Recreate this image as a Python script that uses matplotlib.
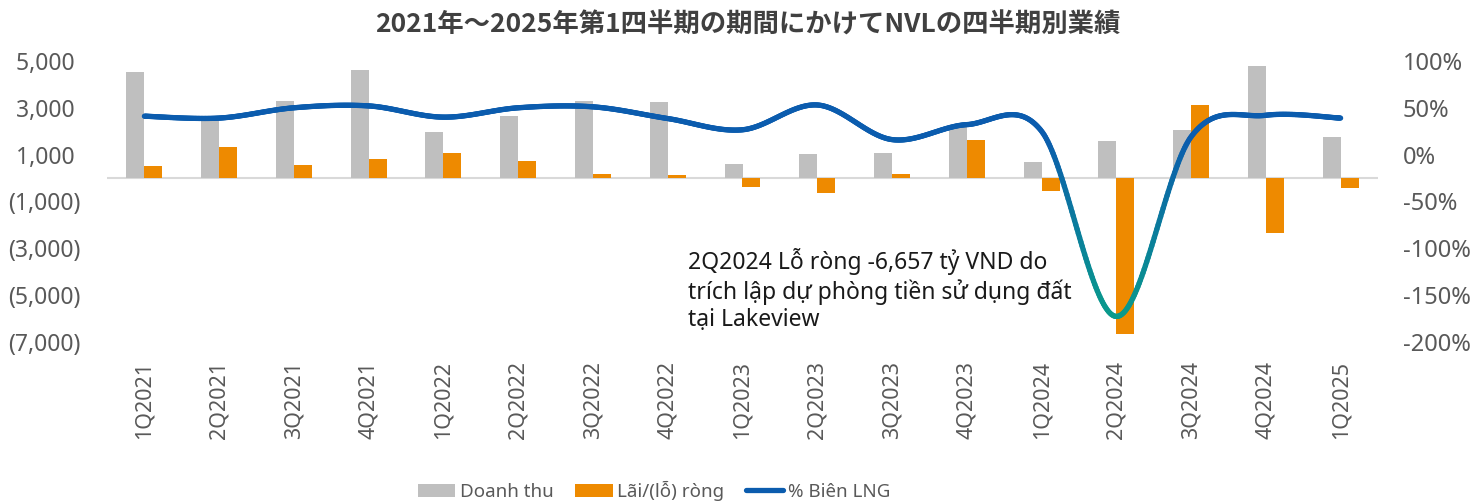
import numpy as np
import matplotlib
matplotlib.use("Agg")
import matplotlib.pyplot as plt
from matplotlib.collections import LineCollection
from matplotlib.patches import Patch
from matplotlib.lines import Line2D
from matplotlib.ticker import FuncFormatter, FixedLocator

plt.rcParams['font.family'] = ['Noto Sans', 'DejaVu Sans']

categories = ["1Q2021", "2Q2021", "3Q2021", "4Q2021", "1Q2022", "2Q2022", "3Q2022",
              "4Q2022", "1Q2023", "2Q2023", "3Q2023", "4Q2023", "1Q2024", "2Q2024",
              "3Q2024", "4Q2024", "1Q2025"]
revenue = [4510, 2550, 3270, 4600, 1950, 2670, 3280, 3240, 600, 1040, 1050, 2200,
           700, 1600, 2030, 4800, 1770]
net_profit = [530, 1310, 560, 810, 1080, 740, 180, 110, -370, -640, 160, 1640,
              -570, -6657, 3130, -2370, -440]
margin = [41, 39, 50, 52, 40, 50, 51, 38.5, 26.5, 53, 16, 32, 25, -173, 19, 42, 39]

title = "2021年～2025年第1四半期の期間にかけてNVLの四半期別業績"
note = "2Q2024 Lỗ ròng -6,657 tỷ VND do\ntrích lập dự phòng tiền sử dụng đất\ntại Lakeview"
legend_labels = ["Doanh thu", "Lãi/(lỗ) ròng", "% Biên LNG"]

GREY = "#bfbfbf"
ORANGE = "#ee8a00"
BLUE = np.array([0x0b, 0x5c, 0xae]) / 255
TEAL = np.array([0x0a, 0x9a, 0x8c]) / 255
TXT = "#595959"

W, H = 1473, 504
fig = plt.figure(figsize=(W / 100, H / 100), dpi=100)
ax = fig.add_axes([107 / W, 1 - 341.7 / H, (1378 - 107) / W, (341.7 - 61) / H])
ax2 = ax.twinx()

x = np.arange(len(categories))
bw = 0.24
ax.bar(x - bw / 2, revenue, width=bw, color=GREY, zorder=2)
ax.bar(x + bw / 2, net_profit, width=bw, color=ORANGE, zorder=2)
ax.axhline(0, color="#d9d9d9", lw=1.5, zorder=1)

ax.set_xlim(-0.5, len(categories) - 0.5)
ax.set_ylim(-7000, 5000)
ax.yaxis.set_major_locator(FixedLocator(np.arange(-7000, 5001, 2000)))
ax.yaxis.set_major_formatter(FuncFormatter(
    lambda v, p: f"{v:,.0f} " if v >= 0 else f"({-v:,.0f})"))
ax.set_xticks(x)
ax.set_xticklabels(categories, rotation=90, va="top", ha="center")
ax.tick_params(axis="x", length=0, pad=14, labelsize=15.5, labelcolor=TXT)
ax.tick_params(axis="y", length=0, pad=19, labelsize=16.5, labelcolor=TXT)

ax2.set_ylim(-200, 100)
ax2.yaxis.set_major_locator(FixedLocator(np.arange(-200, 101, 50)))
ax2.yaxis.set_major_formatter(FuncFormatter(lambda v, p: f"{v:.0f}%"))
ax2.tick_params(axis="y", length=0, pad=18, labelsize=17, labelcolor=TXT)

for a in (ax, ax2):
    for s in a.spines.values():
        s.set_visible(False)

# smoothed line (Excel-style bezier) with vertical colour gradient
pts = np.column_stack([x, margin]).astype(float)
P = np.vstack([pts[0], pts, pts[-1]])
curve = []
for i in range(1, len(P) - 2):
    p0, p1, p2, p3 = P[i - 1], P[i], P[i + 1], P[i + 2]
    c1 = p1 + (p2 - p0) / 6
    c2 = p2 - (p3 - p1) / 6
    t = np.linspace(0, 1, 60)[:, None]
    seg = (1 - t) ** 3 * p1 + 3 * (1 - t) ** 2 * t * c1 + 3 * (1 - t) * t ** 2 * c2 + t ** 3 * p2
    curve.append(seg if i == 1 else seg[1:])
curve = np.vstack(curve)
segs = np.stack([curve[:-1], curve[1:]], axis=1)
ymid = (curve[:-1, 1] + curve[1:, 1]) / 2
f = np.clip((20 - ymid) / (20 + 170), 0, 1)[:, None]
cols = BLUE * (1 - f) + TEAL * f
lc = LineCollection(segs, colors=cols, linewidths=3.8, capstyle="round", joinstyle="round", zorder=3)
ax2.add_collection(lc)

fig.text(748 / W, 1 - 25 / H, title, ha="center", va="center", fontsize=19,
         fontweight="bold", color="#404040",
         family=["Noto Sans CJK JP", "DejaVu Sans"])

fig.text(688 / W, 1 - 248 / H, note, ha="left", va="top", fontsize=16.5,
         color="#1a1a1a", linespacing=1.2)

handles = [Patch(facecolor=GREY, edgecolor="none"),
           Patch(facecolor=ORANGE, edgecolor="none"),
           Line2D([0], [0], color=BLUE, lw=3.8, solid_capstyle="round")]
fig.legend(handles, legend_labels, loc="center", bbox_to_anchor=(654 / W, 1 - 491 / H),
           ncol=3, frameon=False, fontsize=13.5, labelcolor=TXT, handlelength=2.0,
           handleheight=0.75, handletextpad=0.25, columnspacing=1.15)

fig.savefig("out.png", dpi=100)
